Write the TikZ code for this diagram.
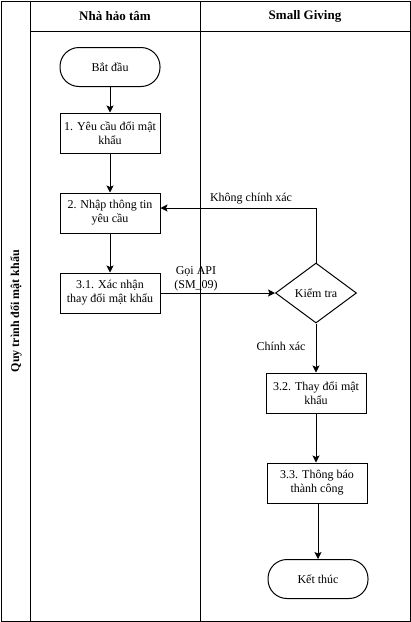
\documentclass[tikz,border=0pt]{standalone}
\usepackage{fontspec}
\setmainfont{Liberation Serif}
\usepackage{tikz}
\usetikzlibrary{positioning, calc, arrows.meta, shapes.geometric}

\tikzset{
    buoc/.style={draw, line width=1pt, minimum width=100pt, minimum height=40pt, align=center, font=\fontsize{12}{14}\selectfont},
    mocdau/.style={draw, line width=1pt, rounded corners=19pt, minimum width=100pt, minimum height=39pt, font=\fontsize{12}{14}\selectfont},
    kiemtra/.style={draw, line width=1pt, diamond, aspect=1.33, minimum width=81pt, minimum height=60pt, inner sep=0pt, font=\fontsize{12}{14}\selectfont},
    muiten/.style={line width=1pt, -{Stealth[length=7pt, width=7pt, inset=1.5pt]}},
    nhan/.style={font=\fontsize{12}{14}\selectfont, align=center, inner sep=1pt}
}

\begin{document}
\begin{tikzpicture}[x=1pt, y=-1pt]
            \useasboundingbox (0,0) rectangle (411,622);

            %khung
            \draw[line width=1pt] (1,1) rectangle (410,621);
            \draw[line width=1pt] (30,1) -- (30,621);
            \draw[line width=1pt] (200,1) -- (200,621);
            \draw[line width=1pt] (30,31) -- (410,31);

            %tieu de
            \node[font=\bfseries\fontsize{13}{15}\selectfont] (tnht) at (115,16) {Nhà hảo tâm};
            \node[font=\bfseries\fontsize{13}{15}\selectfont] (tsg) at (305,16) {Small Giving};
            \node[font=\bfseries\fontsize{12}{14}\selectfont, rotate=90] (tqt) at (16,311) {Quy trình đổi mật khẩu};

            %cac buoc
            \node[mocdau] (bd) at (110,67) {Bắt đầu};
            \node[buoc] (b1) at (110,133) {1. Yêu cầu đổi mật\\khẩu};
            \node[buoc] (b2) at (110,213) {2. Nhập thông tin\\yêu cầu};
            \node[buoc] (b31) at (110,293) {3.1. Xác nhận\\thay đổi mật khẩu};
            \node[kiemtra] (kt) at (316,293) {Kiểm tra};
            \node[buoc] (b32) at (316,393) {3.2. Thay đổi mật\\khẩu};
            \node[buoc] (b33) at (317,483) {3.3. Thông báo\\thành công};
            \node[mocdau] (kth) at (318,579) {Kết thúc};

            %mui ten
            \draw[muiten] (bd) -- (b1);
            \draw[muiten] (b1) -- (b2);
            \draw[muiten] (b2) -- (b31);
            \draw[muiten] (b31.east) -- (kt.west);
            \draw[muiten] (kt.north) |- ([yshift=5pt]b2.east);
            \draw[muiten] (kt.south) -- (b32.north -| kt.south);
            \draw[muiten] (b32) -- (b33.north -| b32.south);
            \draw[muiten] (b33.south -| kth.north) -- (kth);

            %nhan
            \node[nhan] (lapi) at (196,279) {Gọi API\\(SM\_09)};
            \node[nhan] (lkcx) at (251,199) {Không chính xác};
            \node[nhan] (lcx) at (281,346) {Chính xác};
        \end{tikzpicture}
\end{document}
